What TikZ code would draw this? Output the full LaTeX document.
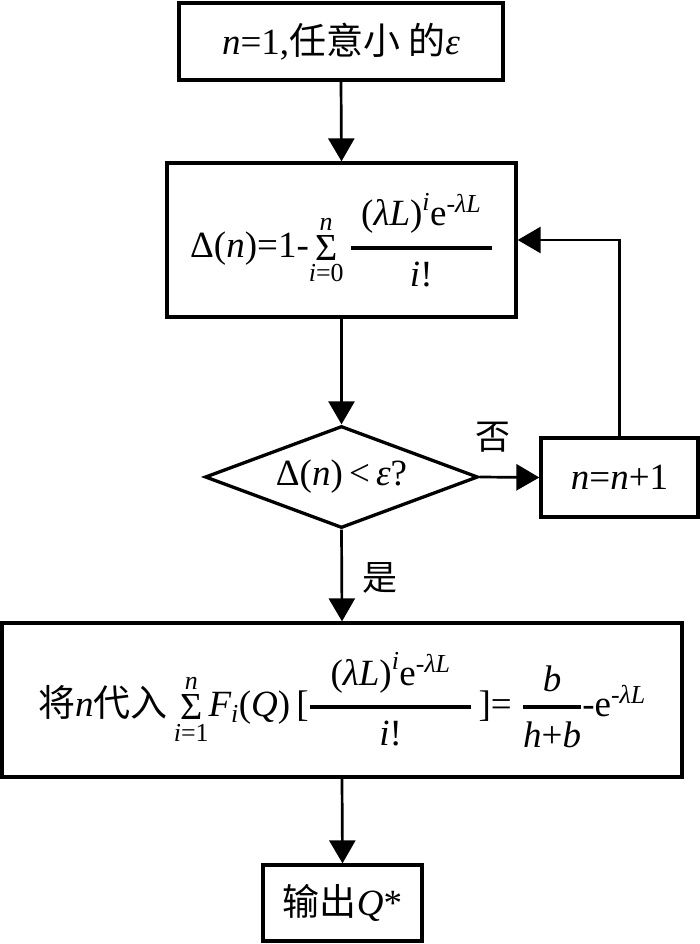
\RequirePackage{fix-cm}
\documentclass[tikz,border=0pt]{standalone}
\usepackage{amsmath}
\usepackage{graphicx}
\usepackage{fontspec}
\setmainfont{Liberation Serif}
\newfontfamily\cjk{Noto Sans CJK SC}
\usetikzlibrary{arrows.meta,shapes.geometric}
\newcommand\vi[1]{\textit{#1}}
\newcommand\tx[1]{\textup{#1}}
\newcommand\fr[2]{\genfrac{}{}{4pt}{0}{#1}{#2}}
\newcommand\bigsum{\mathop{\vcenter{\hbox{\resizebox{!}{25pt}{\symbol{"03A3}}}}}\limits}
\begin{document}
\begin{tikzpicture}[x=1pt,y=-1pt,
  boxstyle/.style={draw,line width=3.3pt,inner sep=0pt,font=\fontsize{37}{44}\selectfont},
  arr/.style={line width=2.7pt,-{Triangle[length=23pt,width=26pt]}},
  lbl/.style={font=\cjk\fontsize{35}{42}\selectfont,inner sep=0pt}]
\useasboundingbox (0,0) rectangle (700,944);
\node[boxstyle,minimum width=324pt,minimum height=77pt] (b1) at (341,41.5)
  {\vi{n}=1,{\cjk 任意小 的}\vi{ε}};
\node[boxstyle,minimum width=349pt,minimum height=154pt] (b2) at (341.5,240)
  {$\tx{Δ(}\vi{n}\tx{)=1-}\!\bigsum_{\vi{i}\tx{=0}}^{\vi{n}}\fr{\;\tx{(}\vi{λL}\tx{)}^{\vi{i}}\tx{e}^{\tx{-}\vi{λL}}\;}{\vi{i}\tx{!}}$};
\node[boxstyle,shape=diamond,aspect=2.68,minimum width=273pt,minimum height=102pt] (d) at (341.5,477)
  {Δ(\vi{n})\,<\,\vi{ε}?};
\node[boxstyle,minimum width=157pt,minimum height=79pt] (b3) at (619.5,477.5)
  {\vi{n}=\vi{n}+1};
\node[boxstyle,minimum width=680pt,minimum height=154pt] (b4) at (342,700)
  {$\text{\cjk 将}\vi{n}\text{\cjk 代入}\bigsum_{\vi{i}\tx{=1}}^{\vi{n}}\!\vi{F}_{\vi{i}}\tx{(}\vi{Q}\tx{)\,[}\fr{\;\;\tx{(}\vi{λL}\tx{)}^{\vi{i}}\tx{e}^{\tx{-}\vi{λL}}\;\;}{\vi{i}\tx{!}}\tx{\,]=\;}\fr{\vi{b}}{\vi{h}\tx{+}\vi{b}}\tx{-e}^{\tx{-}\vi{λL}}$};
\node[boxstyle,minimum width=159pt,minimum height=76pt] (b5) at (342.5,903)
  {{\cjk 输出}\vi{Q}*};
\draw[arr] (b1.south) -- (b2.north);
\draw[arr] (b2.south) -- (d.north);
\draw[arr] (d.east) -- (b3.west);
\draw[arr] (b3.north) |- (b2.east);
\draw[arr] (d.south) -- (b4.north);
\draw[arr] (b4.south) -- (b5.north);
\node[lbl] (no) at (493,437) {否};
\node[lbl] (yes) at (380,578) {是};
\end{tikzpicture}
\end{document}
